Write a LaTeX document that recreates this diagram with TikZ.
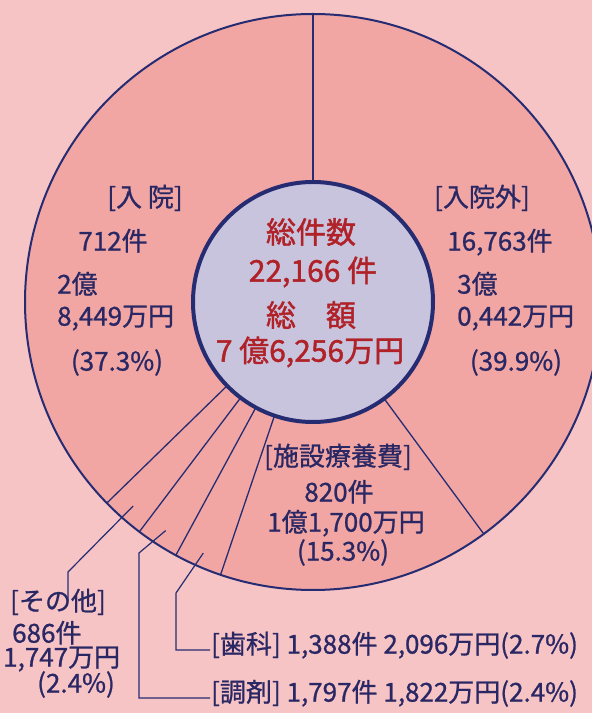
\documentclass[tikz,border=0pt]{standalone}
\usepackage{fontspec}
\setmainfont{Noto Sans CJK JP}
\newfontfamily\lblfont[FakeBold=0.9]{Noto Sans CJK JP}
\newfontfamily\hubfont[FakeBold=1.4]{Noto Sans CJK JP}
\usetikzlibrary{calc}
\definecolor{bgpink}{RGB}{247,196,198}
\definecolor{slicepink}{RGB}{241,166,163}
\definecolor{hubgray}{RGB}{200,196,222}
\definecolor{navy}{RGB}{38,44,114}
\definecolor{inktext}{RGB}{42,40,100}
\definecolor{hubred}{RGB}{176,34,40}
\tikzset{
  lbl/.style={inner sep=1pt, text height=0.8em, text depth=0.08em, text=inktext,
    font=\lblfont\fontsize{26}{28}\selectfont},
  hub/.style={inner sep=1pt, text=hubred, font=\hubfont\fontsize{30}{33}\selectfont},
  rim/.style={draw=navy, line width=1.3pt},
  leader/.style={draw=navy, line width=1.2pt}
}

\begin{document}
\begin{tikzpicture}[x=1pt,y=1pt]
    \fill[bgpink] (0,0) rectangle (592,713);
    \useasboundingbox (0,0) rectangle (592,713);
    \coordinate (O) at (313,411);
    % pie and hub
    \draw[fill=slicepink, draw=navy, line width=2pt] (O) circle[radius=288];
    \foreach \a in {90,-53.64,-108.72,-118.44,-127.08,-135.72}
        \draw[rim] ($(O)+(\a:120)$) -- ($(O)+(\a:288)$);
    \draw[fill=hubgray, draw=navy, line width=4pt] (O) circle[radius=120];

    % hub texts
    \node[hub] (total-title) at (311,481) {総件数};
    \node[hub] (total-count) at (313,441) {22,166 件};
    \node[hub] (total-sumtitle) at (311,398) {総\hspace{1em}額};
    \node[hub] (total-sum) at (310,361) {7 億6,256万円};

    % inpatient
    \node[lbl] (nyuin-title) at (145,510) {[入 院]};
    \node[lbl] (nyuin-count) at (113,466) {712件};
    \node[lbl, anchor=west] (nyuin-oku) at (56,423) {2億};
    \node[lbl, anchor=west] (nyuin-man) at (56,391) {8,449万円};
    \node[lbl] (nyuin-pct) at (117,346) {(37.3\%)};

    % outpatient
    \node[lbl] (gairai-title) at (482,510) {[入院外]};
    \node[lbl] (gairai-count) at (500,466) {16,763件};
    \node[lbl, anchor=west] (gairai-oku) at (456,423) {3億};
    \node[lbl, anchor=west] (gairai-man) at (456,391) {0,442万円};
    \node[lbl] (gairai-pct) at (516,346) {(39.9\%)};

    % facility care
    \node[lbl] (shisetsu-title) at (338,251) {[施設療養費]};
    \node[lbl] (shisetsu-count) at (339,215) {820件};
    \node[lbl] (shisetsu-sum) at (346,185) {1億1,700万円};
    \node[lbl] (shisetsu-pct) at (343,156) {(15.3\%)};

    % small slices
    \node[lbl, anchor=west] (shika) at (210,63) {[歯科] 1,388件 2,096万円(2.7\%)};
    \node[lbl, anchor=west] (chozai) at (210,15) {[調剤] 1,797件 1,822万円(2.4\%)};
    \node[lbl] (sonota-title) at (58,106) {[その他]};
    \node[lbl, anchor=west] (sonota-count) at (11,74) {686件};
    \node[lbl, anchor=west] (sonota-sum) at (2,50) {1,747万円};
    \node[lbl] (sonota-pct) at (76,24) {(2.4\%)};

    % leaders
    \coordinate (shika-in) at ($(O)+(-113.6:274)$);
    \coordinate (chozai-in) at ($(O)+(-122.8:272)$);
    \coordinate (sonota-in) at ($(O)+(-131.4:272)$);
    \coordinate (shika-bend) at (176,120);
    \coordinate (chozai-bend) at (139,160);
    \coordinate (sonota-bend) at (68,141);
    \draw[leader] (shika-in) -- (shika-bend) |- (shika.west);
    \draw[leader] (chozai-in) -- (chozai-bend) |- (chozai.west);
    \draw[leader] (sonota-in) -- (sonota-bend) -- (sonota-bend |- sonota-title.north);
\end{tikzpicture}
\end{document}
